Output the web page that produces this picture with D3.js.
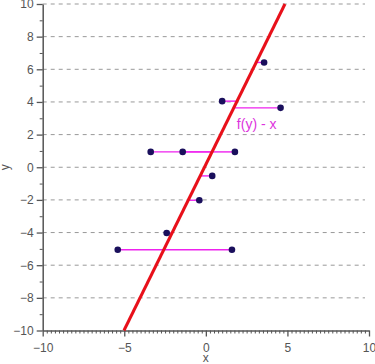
<!DOCTYPE html>
<html>
<head>
<meta charset="utf-8">
<script src="https://cdn.jsdelivr.net/npm/d3@7"></script>
<style>
  body { margin: 0; background: #fff; overflow: hidden; }
  svg { display: block; font-family: "Liberation Sans", Arial, sans-serif; }
</style>
</head>
<body>
<svg width="375" height="364"></svg>
<script>
// data
const pointX = [3.57, 1.0, 4.58, -3.38, -1.42, 1.78, 0.39, -0.4, -2.4, -5.4, 1.6];
const pointY = [6.42, 4.05, 3.64, 0.94, 0.94, 0.94, -0.53, -2.02, -4.03, -5.05, -5.05];
const lineX = [-5.02, 4.85];
const lineY = [-10, 10];
const majorTicks = [-10, -5, 0, 5, 10];
const yMajorTicks = [-10, -8, -6, -4, -2, 0, 2, 4, 6, 8, 10];
const gridTicks = [-8, -6, -4, -2, 0, 2, 4, 6, 8, 10];
const residualLabel = "f(y) - x";

const svg = d3.select("svg");
const width = +svg.attr("width");
const height = +svg.attr("height");
const margin = { top: 4, right: 6, bottom: 33.5, left: 42.7 };
const innerWidth = width - margin.left - margin.right;
const innerHeight = height - margin.top - margin.bottom;

const g = svg.append("g")
  .attr("transform", `translate(${margin.left},${margin.top})`);

const x = d3.scaleLinear().domain([-10, 10]).range([0, innerWidth]);
const y = d3.scaleLinear().domain([-10, 10]).range([innerHeight, 0]);

// x = f(y), the fitted line
const f = d3.scaleLinear().domain(lineY).range(lineX);

const fmt = (d) => (d < 0 ? "\u2212" + Math.abs(d) : String(d));
const axisColor = "#555";

// dashed grid
g.append("g")
  .selectAll("line")
  .data(gridTicks)
  .enter()
  .append("line")
  .attr("x1", 0)
  .attr("x2", innerWidth - 4)
  .attr("y1", (d) => y(d))
  .attr("y2", (d) => y(d))
  .attr("stroke", "#999")
  .attr("stroke-width", 1)
  .attr("stroke-dasharray", "4,4");

// minor ticks
const xMinor = d3.range(-10, 10.001, 0.25).filter((d) => d % 5 !== 0);
const yMinor = d3.range(-9, 10, 2);

g.append("g")
  .attr("transform", `translate(0,${innerHeight})`)
  .call(d3.axisBottom(x).tickValues(xMinor).tickSize(3).tickFormat(""))
  .call((a) => a.select(".domain").remove())
  .call((a) => a.selectAll("line").attr("stroke", axisColor));

g.append("g")
  .call(d3.axisLeft(y).tickValues(yMinor).tickSize(3).tickFormat(""))
  .call((a) => a.select(".domain").remove())
  .call((a) => a.selectAll("line").attr("stroke", axisColor));

// major axes
const xAxis = g.append("g")
  .attr("transform", `translate(0,${innerHeight})`)
  .call(d3.axisBottom(x).tickValues(majorTicks).tickSizeInner(6).tickSizeOuter(0).tickPadding(7).tickFormat(fmt));

const yAxis = g.append("g")
  .call(d3.axisLeft(y).tickValues(yMajorTicks).tickSizeInner(6).tickSizeOuter(0).tickPadding(3).tickFormat(fmt));

[xAxis, yAxis].forEach((a) => {
  a.select(".domain").attr("stroke", axisColor).attr("stroke-width", 1.5);
  a.selectAll("line").attr("stroke", axisColor).attr("stroke-width", 1.3);
  a.selectAll("text").attr("fill", axisColor).attr("font-size", 12);
});

// axis titles
svg.append("text")
  .attr("x", margin.left + x(0))
  .attr("y", 362)
  .attr("text-anchor", "middle")
  .attr("fill", axisColor)
  .attr("font-size", 12)
  .text("x");

svg.append("text")
  .attr("transform", `translate(9,${margin.top + y(0)}) rotate(-90)`)
  .attr("text-anchor", "middle")
  .attr("fill", axisColor)
  .attr("font-size", 12)
  .text("y");

// residual segments
const pts = pointX.map((d, i) => ({ x: d, y: pointY[i] }));

g.append("g")
  .selectAll("line")
  .data(pts)
  .enter()
  .append("line")
  .attr("x1", (d) => x(d.x))
  .attr("x2", (d) => x(f(d.y)))
  .attr("y1", (d) => y(d.y))
  .attr("y2", (d) => y(d.y))
  .attr("stroke", "#ee22ee")
  .attr("stroke-width", 1.4);

// fitted line
g.append("line")
  .attr("x1", x(lineX[0]))
  .attr("y1", y(lineY[0]))
  .attr("x2", x(lineX[1]))
  .attr("y2", y(lineY[1]))
  .attr("stroke", "#e8101a")
  .attr("stroke-width", 3);

// points
g.append("g")
  .selectAll("circle")
  .data(pts)
  .enter()
  .append("circle")
  .attr("cx", (d) => x(d.x))
  .attr("cy", (d) => y(d.y))
  .attr("r", 3.3)
  .attr("fill", "#1a0f5c");

// label
g.append("text")
  .attr("x", x(1.9))
  .attr("y", y(2.35))
  .attr("fill", "#dd33dd")
  .attr("font-size", 14)
  .text(residualLabel);
</script>
</body>
</html>
